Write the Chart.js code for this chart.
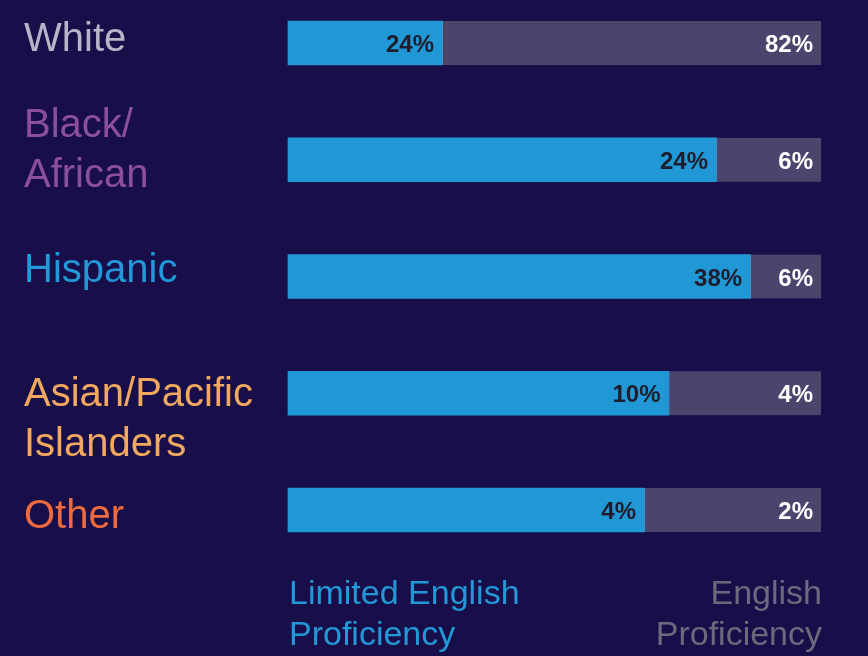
<!DOCTYPE html>
<html>
<head>
<meta charset="utf-8">
<script src="https://cdn.jsdelivr.net/npm/chart.js@4"></script>
<style>
  html, body { margin: 0; padding: 0; background: #180f4a; }
  #wrap { width: 868px; height: 656px; }
</style>
</head>
<body>
<div id="wrap"><canvas id="lep-chart" width="868" height="656"></canvas></div>
<script>
// groups (each label may span several lines)
const groups = [["White"], ["Black/", "African"], ["Hispanic"], ["Asian/Pacific", "Islanders"], ["Other"]];
const groupColors = ["#b6b5c9", "#8c4f9f", "#2298d6", "#f2a85e", "#ef6a3c"];

// printed percentages
const limitedLabels = ["24%", "24%", "38%", "10%", "4%"];
const proficientLabels = ["82%", "6%", "6%", "4%", "2%"];

// bar shares of each row (per cent of the full bar)
const limitedShare = [28.9, 80.3, 86.7, 71.4, 66.8];
const proficientShare = [71.1, 19.7, 13.3, 28.6, 33.2];

const seriesNames = [["Limited English", "Proficiency"], ["English", "Proficiency"]];

const FONT = "'Liberation Sans', Arial, Helvetica, sans-serif";

// label baselines relative to the bar centre
const groupOffsets = [8, -23, 5, 13, 18];

const textPlugin = {
  id: "textPlugin",
  afterDatasetsDraw(chart) {
    const ctx = chart.ctx;
    const yScale = chart.scales.y;
    const area = chart.chartArea;
    ctx.save();

    // value labels inside the bars
    ctx.font = "bold 24px " + FONT;
    ctx.textAlign = "right";
    ctx.textBaseline = "alphabetic";
    const labelSets = [limitedLabels, proficientLabels];
    const labelColors = ["#1f1d2c", "#ffffff"];
    chart.data.datasets.forEach((ds, di) => {
      chart.getDatasetMeta(di).data.forEach((bar, i) => {
        ctx.fillStyle = labelColors[di];
        ctx.fillText(labelSets[di][i], bar.x - 8, bar.y + 9);
      });
    });

    // group names on the left
    ctx.font = "40px " + FONT;
    ctx.textAlign = "left";
    groups.forEach((lines, i) => {
      const base = yScale.getPixelForValue(i) + groupOffsets[i];
      ctx.fillStyle = groupColors[i];
      lines.forEach((line, j) => ctx.fillText(line, 24, base + j * 50));
    });

    // series names under the bars
    ctx.font = "34px " + FONT;
    const top = area.bottom + 94;
    ctx.fillStyle = "#2298d6";
    ctx.textAlign = "left";
    seriesNames[0].forEach((line, j) => ctx.fillText(line, area.left + 1, top + j * 41));
    ctx.fillStyle = "#6b6a7c";
    ctx.textAlign = "right";
    seriesNames[1].forEach((line, j) => ctx.fillText(line, area.right + 1, top + j * 41));

    ctx.restore();
  }
};

new Chart(document.getElementById("lep-chart"), {
  type: "bar",
  data: {
    labels: groups.map(g => g.join(" ")),
    datasets: [
      {
        label: seriesNames[0].join(" "),
        data: limitedShare,
        backgroundColor: "#2198d6",
        borderWidth: 0,
        barThickness: 44,
        clip: false
      },
      {
        label: seriesNames[1].join(" "),
        data: proficientShare,
        backgroundColor: "#4b456e",
        borderColor: "#5aaede",
        borderWidth: { left: 1, right: 0, top: 0, bottom: 0 },
        borderSkipped: false,
        barThickness: 44,
        clip: false
      }
    ]
  },
  options: {
    indexAxis: "y",
    responsive: false,
    animation: false,
    layout: { padding: { left: 288, right: 47, top: 43, bottom: 146 } },
    plugins: {
      legend: { display: false },
      tooltip: { enabled: false }
    },
    scales: {
      x: { stacked: true, min: 0, max: 100, display: false },
      y: { stacked: true, offset: false, display: false }
    }
  },
  plugins: [textPlugin]
});
</script>
</body>
</html>
